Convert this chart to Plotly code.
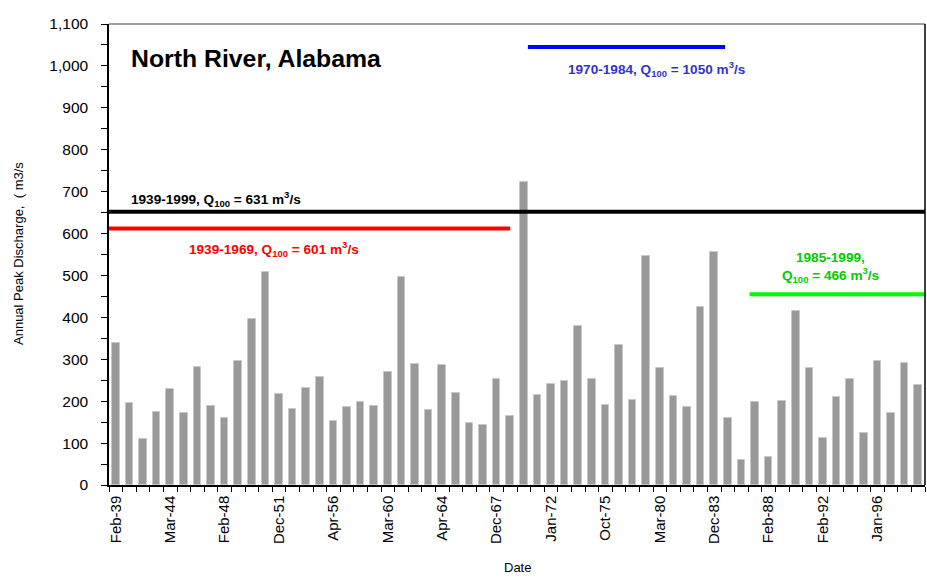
"""North River, Alabama — annual peak discharge bars with Q100 levels."""
import plotly.graph_objects as go

FONT = "Liberation Sans, Arial, sans-serif"

# annual peak discharge (m3/s), one bar per record, in date order
peak_discharge = [
    339, 195, 110, 175, 230, 171, 282, 188, 161, 295,
    396, 509, 217, 181, 232, 257, 152, 187, 199, 189,
    269, 497, 289, 178, 287, 219, 148, 143, 252, 165,
    722, 215, 240, 248, 379, 254, 191, 333, 203, 547,
    278, 213, 187, 424, 555, 161, 59, 197, 67, 201,
    416, 278, 112, 211, 254, 123, 296, 173, 290, 239,
]
tick_labels = [
    "Feb-39", "Mar-44", "Feb-48", "Dec-51", "Apr-56", "Mar-60", "Apr-64",
    "Dec-67", "Jan-72", "Oct-75", "Mar-80", "Dec-83", "Feb-88", "Feb-92",
    "Jan-96",
]
label_every = 4

# Q100 reference lines: (level as drawn, first bar, last bar)
q100_levels = [652, 612, 1045, 455]
q100_start = [-0.5, -0.5, 30.3, 46.6]
q100_end = [59.5, 29.0, 44.8, 59.5]
q100_colors = ["#000000", "#ff0000", "#0000ff", "#00ff00"]

n = len(peak_discharge)
bar_x = list(range(n))

fig = go.Figure()
fig.add_trace(go.Bar(
    x=bar_x, y=peak_discharge, width=0.55,
    marker=dict(color="#999999", line=dict(color="#c8c8c8", width=1)),
    showlegend=False, hoverinfo="y",
))
for level, x0, x1, color in zip(q100_levels, q100_start, q100_end, q100_colors):
    fig.add_trace(go.Scatter(
        x=[x0, x1], y=[level, level], mode="lines",
        line=dict(color=color, width=4),
        showlegend=False, hoverinfo="skip",
    ))

L, R, T, B = 109, 2, 24, 93
pw, ph = 927 - L - R, 578 - T - B


def px(x):
    return (x - L) / pw


def py(y):
    return (578 - B - y) / ph


annots = [
    ("<b>North River, Alabama</b>", 129, 59, 24.8, "#000000", "left"),
    ("<b>1939-1999, Q<sub>100</sub> = 631 m<sup>3</sup>/s</b>", 129, 199, 13.6, "#000000", "left"),
    ("<b>1939-1969, Q<sub>100</sub> = 601 m<sup>3</sup>/s</b>", 187, 249, 13.6, "#ff0000", "left"),
    ("<b>1970-1984, Q<sub>100</sub> = 1050 m<sup>3</sup>/s</b>", 566, 69, 13.6, "#3333cc", "left"),
    ("<b>1985-1999,</b>", 830, 257, 13.6, "#00cc00", "center"),
    ("<b>Q<sub>100</sub> = 466 m<sup>3</sup>/s</b>", 830, 275, 13.6, "#00cc00", "center"),
]
for text, x, y, size, color, anchor in annots:
    fig.add_annotation(
        text=text, x=px(x), y=py(y), xref="paper", yref="paper",
        xanchor=anchor, yanchor="middle", showarrow=False,
        font=dict(family=FONT, size=size, color=color),
    )

# axis titles placed as annotations for exact position
fig.add_annotation(
    text="Annual Peak Discharge,  ( m3/s", x=px(18), y=py(254),
    xref="paper", yref="paper", textangle=-90, showarrow=False,
    xanchor="center", yanchor="middle",
    font=dict(family=FONT, size=13, color="#000000"),
)
fig.add_annotation(
    text="Date", x=px(517), y=py(567), xref="paper", yref="paper",
    showarrow=False, xanchor="center", yanchor="middle",
    font=dict(family=FONT, size=13, color="#000000"),
)

# plot frame: grey top, black right
fig.add_shape(type="line", xref="paper", yref="paper", x0=0, x1=1, y0=1, y1=1,
              line=dict(color="#808080", width=1.5))
fig.add_shape(type="line", xref="paper", yref="paper", x0=1, x1=1, y0=0, y1=1,
              line=dict(color="#000000", width=1.5))

fig.update_layout(
    width=927, height=578,
    margin=dict(l=L, r=R, t=T, b=B),
    paper_bgcolor="white", plot_bgcolor="white",
    font=dict(family=FONT, color="#000000"),
    bargap=0,
    xaxis=dict(
        range=[-0.5, n - 0.5], showgrid=False, zeroline=False,
        showline=True, linecolor="#000000", linewidth=1.5,
        tickmode="array",
        tickvals=bar_x[::label_every][:len(tick_labels)],
        ticktext=tick_labels, tickangle=-90, ticks="",
        tickfont=dict(size=15, family=FONT), ticklabelstandoff=3,
        minor=dict(ticks="outside", tick0=-0.5, dtick=1, ticklen=5,
                   tickcolor="#000000", showgrid=False),
    ),
    yaxis=dict(
        range=[0, 1100], dtick=100, tickformat=",", showgrid=False,
        zeroline=False, showline=True, linecolor="#000000", linewidth=1.5,
        ticks="outside", ticklen=6, tickcolor="#000000",
        tickfont=dict(size=15.5, family=FONT), ticklabelstandoff=10,
        minor=dict(ticks="outside", dtick=50, ticklen=6,
                   tickcolor="#000000", showgrid=False),
    ),
)

fig.write_html("out.html", config={"displayModeBar": False},
               post_script="document.body.style.margin='0';")
